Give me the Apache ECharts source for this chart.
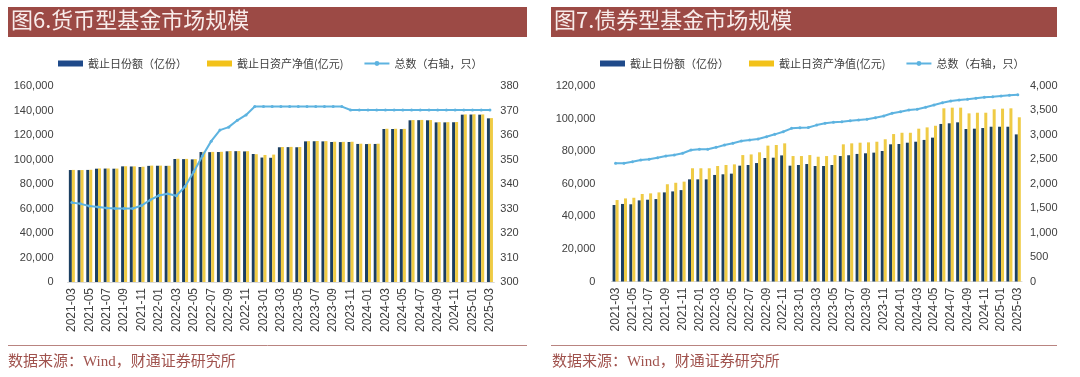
<!DOCTYPE html>
<html>
<head>
<meta charset="utf-8">
<script src="https://cdn.jsdelivr.net/npm/echarts@6/dist/echarts.min.js"></script>
<style>
html,body{margin:0;padding:0;background:#fff;}
#c{width:1080px;height:377px;}
</style>
</head>
<body>
<div id="c"></div>
<script>
// ---------- data ----------
var months = ['2021-03','2021-04','2021-05','2021-06','2021-07','2021-08','2021-09','2021-10','2021-11','2021-12',
'2022-01','2022-02','2022-03','2022-04','2022-05','2022-06','2022-07','2022-08','2022-09','2022-10','2022-11','2022-12',
'2023-01','2023-02','2023-03','2023-04','2023-05','2023-06','2023-07','2023-08','2023-09','2023-10','2023-11','2023-12',
'2024-01','2024-02','2024-03','2024-04','2024-05','2024-06','2024-07','2024-08','2024-09','2024-10','2024-11','2024-12',
'2025-01','2025-02','2025-03'];

var titleLeft = '图6.货币型基金市场规模';
var titleRight = '图7.债券型基金市场规模';
var seriesNames = ['截止日份额（亿份）', '截止日资产净值(亿元)', '总数（右轴，只）'];
var sourceText = '数据来源：Wind，财通证券研究所';

// Money market funds
var mmShares = [91400,91300,91500,92500,92600,92500,94400,94300,93900,94800,94900,94800,
100400,100300,100100,106100,106000,106100,106700,106800,106600,104500,101600,101400,
110000,110100,110000,114800,114900,114800,114300,114200,114300,112700,112600,112700,
124900,124900,124800,132000,132100,132000,130300,130300,130400,136600,136700,136600,133600];
var mmNav = [91500,91400,91600,92700,92700,92600,94500,94400,94100,95000,95000,94900,
100600,100500,100300,106300,106200,106300,106900,106900,106800,104300,103700,104000,
110200,110300,110200,115000,115100,115000,114500,114400,114500,112900,112800,112900,
125100,125100,125000,132200,132300,132200,130500,130500,130600,136800,136900,136800,133800];
var mmCount = [332.4,331.9,331.0,330.6,330.2,330.0,330.0,330.0,331.2,333.5,335.3,336.0,
335.2,339.0,345.0,351.5,357.5,362.0,363.2,366.0,368.2,371.6,371.6,371.6,
371.6,371.6,371.6,371.6,371.6,371.6,371.6,371.6,370.2,370.2,370.2,370.2,
370.2,370.2,370.2,370.2,370.2,370.2,370.2,370.2,370.2,370.2,370.2,370.2,370.2];

// Bond funds
var bondShares = [46950,47600,47400,49800,50200,50600,54700,55300,56100,62700,62700,62700,
65400,65800,66200,71100,71500,72700,75800,76000,77400,71100,71500,72100,
70900,70900,71500,77000,77500,78300,78700,79100,80100,84200,84400,85200,
85800,86900,88300,96700,97100,97700,93600,93800,94200,95000,95000,95000,90300];
var bondNav = [50000,51000,51400,53700,54100,54700,59700,60600,61300,69500,69500,69500,
70900,71500,71900,77600,78000,79300,83400,83800,84800,77000,77000,77600,
76600,77000,77600,84200,84800,85200,85400,85800,87300,90500,91300,91300,
93800,94600,95600,106300,106700,106700,103200,103600,103600,105700,106100,106300,100800];
var bondCount = [2418,2420,2450,2486,2500,2533,2568,2588,2623,2690,2705,2705,
2745,2793,2827,2875,2895,2916,2963,3011,3065,3134,3147,3150,
3200,3237,3257,3270,3290,3304,3318,3352,3386,3441,3475,3509,
3523,3564,3611,3659,3693,3713,3727,3748,3768,3781,3795,3809,3822];

// ---------- styles ----------
var C_DARK = '#1C3F62', C_YEL = '#EFCB45', C_LINE = '#5DB3E0';
var C_BANNER = '#9C4A45', C_TXT = '#404040';
var FONT = '"Liberation Sans", Arial, "Noto Sans CJK SC", sans-serif';
var CJK = '"Noto Sans CJK SC", sans-serif';

function fmt(v){ return Number(v).toLocaleString('en-US'); }

var chart = echarts.init(document.getElementById('c'), null, {renderer:'canvas'});

function xAxis(gi){
  return {
    type:'category', gridIndex:gi, data:months,
    axisLine:{show:true, lineStyle:{color:'#d9d9d9'}},
    axisTick:{show:false},
    axisLabel:{interval:1, rotate:90, fontSize:12, color:C_TXT, fontFamily:FONT, margin:6}
  };
}
function yAxis(gi, min, max, interval, pos, margin){
  return {
    type:'value', gridIndex:gi, min:min, max:max, interval:interval, position:pos,
    splitLine:{show:false}, axisLine:{show:false}, axisTick:{show:false},
    axisLabel:{fontSize:11, color:C_TXT, fontFamily:FONT, margin:margin, formatter:fmt}
  };
}
function barSeries(name, data, xi, yi, color){
  return {name:name, type:'bar', xAxisIndex:xi, yAxisIndex:yi, data:data,
    barWidth:3, barGap:'0%', itemStyle:{color:color}};
}
function lineSeries(name, data, xi, yi){
  return {name:name, type:'line', xAxisIndex:xi, yAxisIndex:yi, data:data,
    symbol:'circle', symbolSize:3, showSymbol:true, z:5,
    lineStyle:{color:C_LINE, width:2}, itemStyle:{color:C_LINE}};
}
function legend(left){
  return {
    left:left, top:53, itemWidth:25, itemHeight:6, itemGap:20,
    textStyle:{fontSize:11, color:C_TXT, fontFamily:CJK},
    data:[{name:seriesNames[0], icon:'rect', itemStyle:{color:'#1F4A8A'}},
          {name:seriesNames[1], icon:'rect', itemStyle:{color:'#F2C21A'}},
          {name:seriesNames[2]}]
  };
}

var option = {
  animation:false,
  backgroundColor:'#fff',
  grid:[
    {left:67.5, right:585.7, top:86, bottom:95},
    {left:611.4, right:58, top:86, bottom:95.5}
  ],
  legend:[legend(53), legend(595)],
  xAxis:[xAxis(0), xAxis(1)],
  yAxis:[
    yAxis(0, 0, 160000, 20000, 'left', 14),
    yAxis(0, 300, 380, 10, 'right', 6),
    yAxis(1, 0, 120000, 20000, 'left', 16),
    yAxis(1, 0, 4000, 500, 'right', 8)
  ],
  series:[
    barSeries(seriesNames[0], mmShares, 0, 0, C_DARK),
    barSeries(seriesNames[1], mmNav, 0, 0, C_YEL),
    lineSeries(seriesNames[2], mmCount, 0, 1),
    barSeries(seriesNames[0], bondShares, 1, 2, C_DARK),
    barSeries(seriesNames[1], bondNav, 1, 2, C_YEL),
    lineSeries(seriesNames[2], bondCount, 1, 3)
  ],
  graphic:[
    {type:'rect', left:8, top:7, shape:{width:519, height:30}, style:{fill:C_BANNER}, silent:true},
    {type:'text', left:11, top:9, style:{text:titleLeft, fill:'#F8ECEA', font:'22px '+CJK}, silent:true},
    {type:'rect', left:551, top:7, shape:{width:506, height:30}, style:{fill:C_BANNER}, silent:true},
    {type:'text', left:554, top:9, style:{text:titleRight, fill:'#F8ECEA', font:'22px '+CJK}, silent:true},
    {type:'line', shape:{x1:8, y1:345.5, x2:527, y2:345.5}, style:{stroke:'#B98480', lineWidth:1}, silent:true},
    {type:'line', shape:{x1:551, y1:345.5, x2:1057, y2:345.5}, style:{stroke:'#B98480', lineWidth:1}, silent:true},
    {type:'text', left:8, top:355, style:{text:sourceText, fill:'#A0524D', font:'15px "Liberation Serif", "Noto Sans CJK SC", serif'}, silent:true},
    {type:'text', left:552, top:355, style:{text:sourceText, fill:'#A0524D', font:'15px "Liberation Serif", "Noto Sans CJK SC", serif'}, silent:true}
  ]
};
chart.setOption(option);
</script>
</body>
</html>
